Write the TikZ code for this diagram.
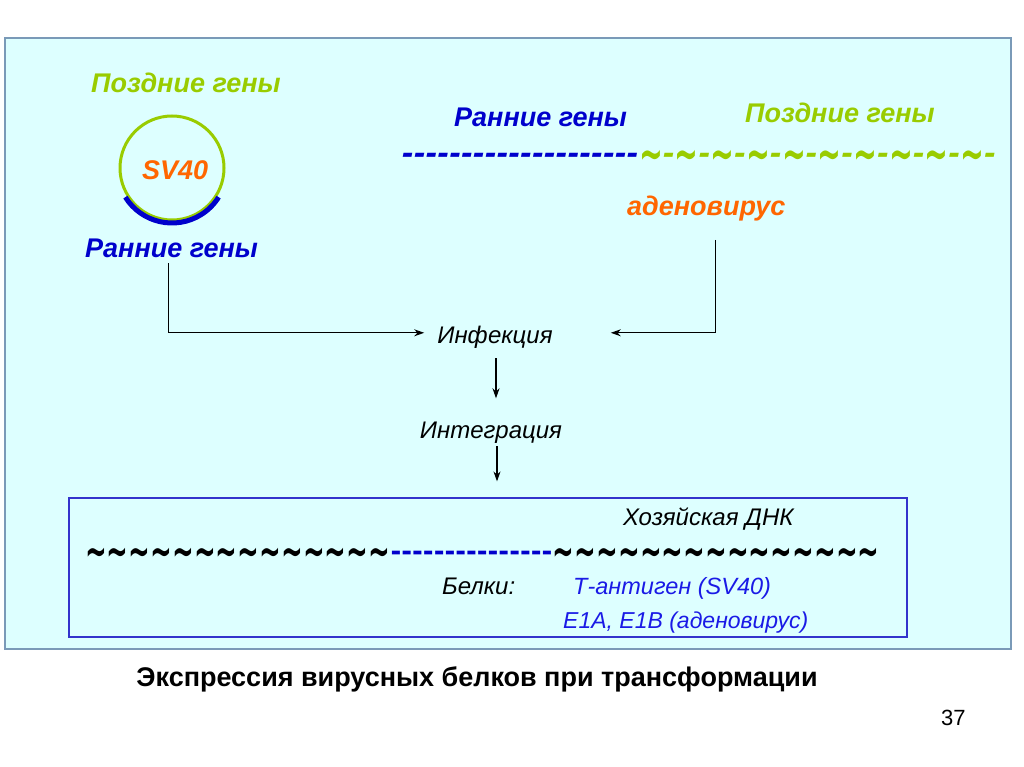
\documentclass[tikz,border=0pt]{standalone}
\usepackage{fontspec}
\setmainfont{Liberation Sans}
\newfontfamily\headfont{DejaVu Sans}
\usetikzlibrary{positioning, arrows.meta}

\definecolor{slidebg}{HTML}{DDFFFF}
\definecolor{slideframe}{HTML}{7A9AB8}
\definecolor{lategreen}{HTML}{99CC00}
\definecolor{earlyblue}{HTML}{0000CC}
\definecolor{virusorange}{HTML}{FF6600}
\definecolor{proteinblue}{HTML}{1A1AE6}
\definecolor{hostframe}{HTML}{3333CC}

\newcommand\wave{\smash{\raisebox{-0.24em}{\scalebox{1}[1.7]{\textasciitilde}}}}
\newcommand\dashrun[1]{\foreach \k in {1,...,#1}{-\kern0pt}}
\newcommand\waverun[1]{\foreach \k in {1,...,#1}{\wave\kern0pt}}
\newcommand\mixrun[1]{\foreach \k in {1,...,#1}{\wave\kern0pt-\kern0pt}}

\tikzset{
  genelabel/.style={font=\bfseries\itshape\fontsize{27}{30}\selectfont, inner sep=0pt, anchor=base west},
  steplabel/.style={font=\itshape\fontsize{24}{28}\selectfont, inner sep=0pt, anchor=base},
  hostlabel/.style={font=\itshape\fontsize{24}{28}\selectfont, inner sep=0pt, anchor=base west},
  dnarow/.style={font=\headfont\bfseries\fontsize{26}{30}\selectfont, inner sep=0pt, anchor=base west},
  toprow/.style={font=\headfont\bfseries\itshape\fontsize{28.5}{30}\selectfont, inner sep=0pt, anchor=base west},
  link/.style={->, line width=1.1pt},
}

\begin{document}
\begin{tikzpicture}[x=1pt, y=-1pt, >={Stealth[length=10pt, width=7pt]}]
    \useasboundingbox (0,0) rectangle (1024,767);
    \fill[white] (0,0) rectangle (1024,767);
    \draw[slideframe, line width=1.5pt, fill=slidebg] (5,38) rectangle (1011,649);

    % SV40 ring
    \node[genelabel, text=lategreen] (lateL) at (91,93) {Поздние гены};
    \node[circle, draw=lategreen, line width=3pt, minimum size=104pt, inner sep=0pt] (ring) at (172,168) {};
    \draw[earlyblue, line width=5pt] (ring.center) ++(148:55) arc[start angle=148, end angle=32, radius=55];
    \node[genelabel, text=virusorange] (sv) at (142,180) {SV40};
    \node[genelabel, text=earlyblue] (earlyL) at (85,257) {Ранние гены};

    % adenovirus genome
    \node[genelabel, text=earlyblue] (earlyR) at (454,127) {Ранние гены};
    \node[genelabel, text=lategreen] (lateR) at (745,123) {Поздние гены};
    \node[toprow, text=earlyblue] (adEarly) at (402,164) {\dashrun{20}};
    \node[toprow, text=lategreen, right=0pt of adEarly.base east, anchor=base west] (adLate) {\mixrun{10}};
    \node[genelabel, text=virusorange] (adeno) at (627,216) {аденовирус};

    % steps
    \node[steplabel] (infect) at (495,343) {Инфекция};
    \node[steplabel] (integ) at (491,438) {Интеграция};

    \node[draw=hostframe, line width=1.2pt, fill=slidebg, minimum width=838pt, minimum height=139pt, inner sep=0pt] (hostbox) at (488,567.5) {};
    \node[hostlabel] (hostdna) at (623,525) {Хозяйская ДНК};
    \node[dnarow] (hostL) at (85,560) {\waverun{14}};
    \node[dnarow, text=earlyblue, right=0pt of hostL.base east, anchor=base west] (insert) {\dashrun{15}};
    \node[dnarow, right=0pt of insert.base east, anchor=base west] (hostR) {\waverun{15}};
    \node[hostlabel] (prot) at (442,594) {Белки:};
    \node[hostlabel, font=\itshape\fontsize{23.5}{28}\selectfont, text=proteinblue] (tag) at (573,594) {Т-антиген (SV40)};
    \node[hostlabel, font=\itshape\fontsize{23}{28}\selectfont, text=proteinblue] (e1) at (563,628) {E1A, E1B (аденовирус)};

    \draw[link, shorten <=10pt, shorten >=13pt] ([xshift=-3pt, yshift=4pt]earlyL.south) |- ([yshift=4pt]infect.west);
    \draw[link, shorten <=18pt, shorten >=58pt] ([xshift=9pt]adeno.south) |- ([yshift=4pt]infect.east);
    \draw[link, shorten <=10pt, shorten >=23pt] ([xshift=1pt]infect.south) -- ([xshift=1pt]infect.south |- integ.north);
    \draw[link, shorten <=3pt, shorten >=16pt] ([xshift=6pt]integ.south) -- ([xshift=6pt]integ.south |- hostbox.north);

    \node[font=\bfseries\fontsize{27}{30}\selectfont, inner sep=0pt, anchor=base] (caption) at (477,686) {Экспрессия вирусных белков при трансформации};
    \node[font=\fontsize{22}{26}\selectfont, inner sep=0pt, anchor=base west] (pageno) at (941,725) {37};
\end{tikzpicture}
\end{document}
